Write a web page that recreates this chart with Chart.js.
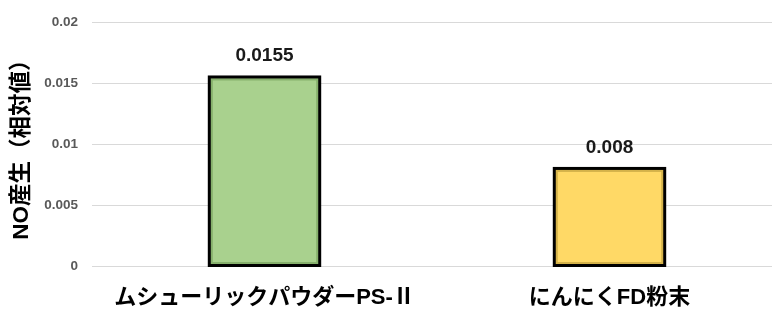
<!DOCTYPE html>
<html>
<head>
<meta charset="utf-8">
<script src="https://cdn.jsdelivr.net/npm/chart.js@4/dist/chart.umd.min.js"></script>
<style>
  html, body { margin: 0; padding: 0; background: #fff; overflow: hidden; }
  #wrap { width: 782px; height: 309px; }
</style>
</head>
<body>
<div id="wrap"><canvas id="chart"></canvas></div>
<script>
// Chart data
const categories = ['ムシューリックパウダーPS-Ⅱ', 'にんにくFD粉末'];
const values = [0.0155, 0.008];
const valueLabels = ['0.0155', '0.008'];
const barColors = ['#a9d18e', '#ffd966'];
const edgeColors = ['#86b06c', '#d4b24a'];
const yTicks = [0, 0.005, 0.01, 0.015, 0.02];

const FONT = '"Liberation Sans", "Noto Sans CJK JP", sans-serif';

// Value labels above bars + slight bevel inside bars
const barExtras = {
    id: 'barExtras',
    afterDatasetsDraw(chart) {
        const ctx = chart.ctx;
        const meta = chart.getDatasetMeta(0);
        meta.data.forEach((bar, i) => {
            const p = bar.getProps(['x', 'y', 'base', 'width'], true);
            const left = p.x - p.width / 2, top = p.y;
            // inner darker edge
            ctx.save();
            ctx.strokeStyle = edgeColors[i];
            ctx.lineWidth = 2;
            ctx.strokeRect(left + 2.5, top + 2.5, p.width - 5, p.base - top - 5);
            ctx.strokeStyle = '#000';
            ctx.lineWidth = 3;
            ctx.strokeRect(left, top, p.width, p.base - top);
            ctx.restore();
            // value label
            ctx.save();
            ctx.font = 'bold 19px ' + FONT;
            ctx.fillStyle = '#1a1a1a';
            ctx.textAlign = 'center';
            ctx.textBaseline = 'middle';
            ctx.fillText(valueLabels[i], p.x, top - 21);
            ctx.restore();
        });
    }
};

new Chart(document.getElementById('chart'), {
    type: 'bar',
    data: {
        labels: categories,
        datasets: [{
            data: values,
            backgroundColor: barColors,
            borderWidth: 0,
            barPercentage: 0.32,
            categoryPercentage: 1
        }]
    },
    options: {
        responsive: true,
        maintainAspectRatio: false,
        animation: false,
        layout: { padding: { top: 11, right: 0, bottom: 0, left: 8 } },
        plugins: {
            legend: { display: false },
            tooltip: { enabled: false }
        },
        scales: {
            x: {
                grid: { display: false, drawTicks: false },
                border: { display: false },
                afterFit(axis) { axis.height = 43; },
                ticks: {
                    color: '#000',
                    padding: 21,
                    maxRotation: 0,
                    autoSkip: false,
                    font: { family: FONT, size: 22, weight: 'bold', lineHeight: 1 }
                }
            },
            y: {
                min: 0,
                max: 0.02,
                afterBuildTicks(axis) { axis.ticks = yTicks.map(v => ({ value: v })); },
                afterFit(axis) { axis.width = 84; },
                grid: { color: '#d9d9d9', lineWidth: 1, drawTicks: false },
                border: { display: false },
                ticks: {
                    color: '#595959',
                    padding: 14,
                    font: { family: FONT, size: 13.5, weight: 'bold' },
                    callback: v => String(+Number(v).toFixed(4))
                },
                title: {
                    display: true,
                    text: 'NO産生（相対値）',
                    color: '#000',
                    padding: { top: 0, bottom: 0 },
                    font: { family: FONT, size: 22.5, weight: 'bold' }
                }
            }
        }
    },
    plugins: [barExtras]
});
</script>
</body>
</html>
